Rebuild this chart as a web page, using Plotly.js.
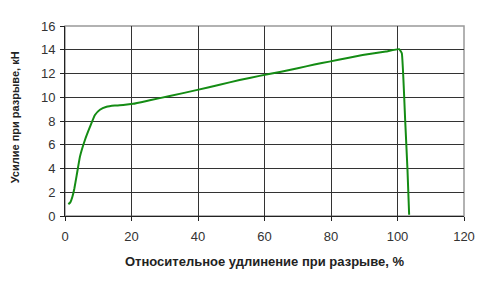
<!DOCTYPE html>
<html>
<head>
<meta charset="utf-8">
<script src="https://cdn.plot.ly/plotly-3.0.1.min.js"></script>
<style>html,body{margin:0;padding:0;background:#fff;}#chart{width:491px;height:286px;}</style>
</head>
<body>
<div id="chart"></div>
<script>
const elongation = [1.0, 1.6, 2.2, 2.8, 3.5, 4.5, 6.0, 7.5, 9.0, 10.5, 12.5, 15.0, 17.5, 20.5, 25.5, 31.5, 39.5, 46.5, 52.5, 58.5, 65.0, 70.0, 75.0, 79.5, 85.0, 89.5, 96.5, 100.5, 101.3, 102.3, 103.0, 103.5];
const force = [1.0, 1.15, 1.6, 2.3, 3.4, 5.0, 6.4, 7.5, 8.5, 8.95, 9.2, 9.3, 9.35, 9.45, 9.75, 10.1, 10.6, 11.05, 11.45, 11.8, 12.15, 12.45, 12.75, 13.0, 13.3, 13.55, 13.85, 14.05, 13.7, 8.1, 3.9, 0.1];
const xTicks = [0, 20, 40, 60, 80, 100, 120];
const yTicks = [0, 2, 4, 6, 8, 10, 12, 14, 16];
const xTitle = "Относительное удлинение при разрыве, %";
const yTitle = "Усилие при разрыве, кН";

const fam = "Liberation Sans, Arial, sans-serif";
const tickFont = {family: fam, size: 13, color: "#333"};
Plotly.newPlot("chart", [{
  x: elongation, y: force, type: "scatter", mode: "lines",
  line: {color: "#148c14", width: 2, shape: "spline", smoothing: 0.3},
  hoverinfo: "skip"
}], {
  width: 491, height: 286,
  margin: {l: 65, r: 27, t: 26, b: 70},
  paper_bgcolor: "#fff", plot_bgcolor: "#fff",
  showlegend: false,
  font: tickFont,
  xaxis: {
    range: [0, 120], tickvals: xTicks, ticks: "outside", ticklen: 4, tickcolor: "#222",
    showline: true, linecolor: "#222", linewidth: 1,
    showgrid: true, gridcolor: "#333", gridwidth: 1, zeroline: false,
    tickfont: tickFont, ticklabelstandoff: 4,
    title: {text: xTitle, font: {family: fam, size: 13, color: "#222", weight: "bold"}, standoff: 14}
  },
  yaxis: {
    range: [0, 16], tickvals: yTicks, ticks: "outside", ticklen: 4, tickcolor: "#222",
    showline: true, linecolor: "#222", linewidth: 1,
    showgrid: true, gridcolor: "#333", gridwidth: 1, zeroline: false,
    tickfont: tickFont, ticklabelstandoff: 2
  },
  shapes: [{type: "rect", xref: "paper", yref: "paper", x0: 0, x1: 1, y0: 0, y1: 1,
            line: {color: "#999", width: 1.5}, layer: "below"}],
  annotations: [{
    text: "<b>" + yTitle + "</b>", xref: "paper", yref: "paper",
    x: -0.125, y: 0.52, xanchor: "center", yanchor: "middle", textangle: -90,
    showarrow: false, font: {family: fam, size: 11, color: "#222"}
  }]
}, {staticPlot: true});
</script>
</body>
</html>
